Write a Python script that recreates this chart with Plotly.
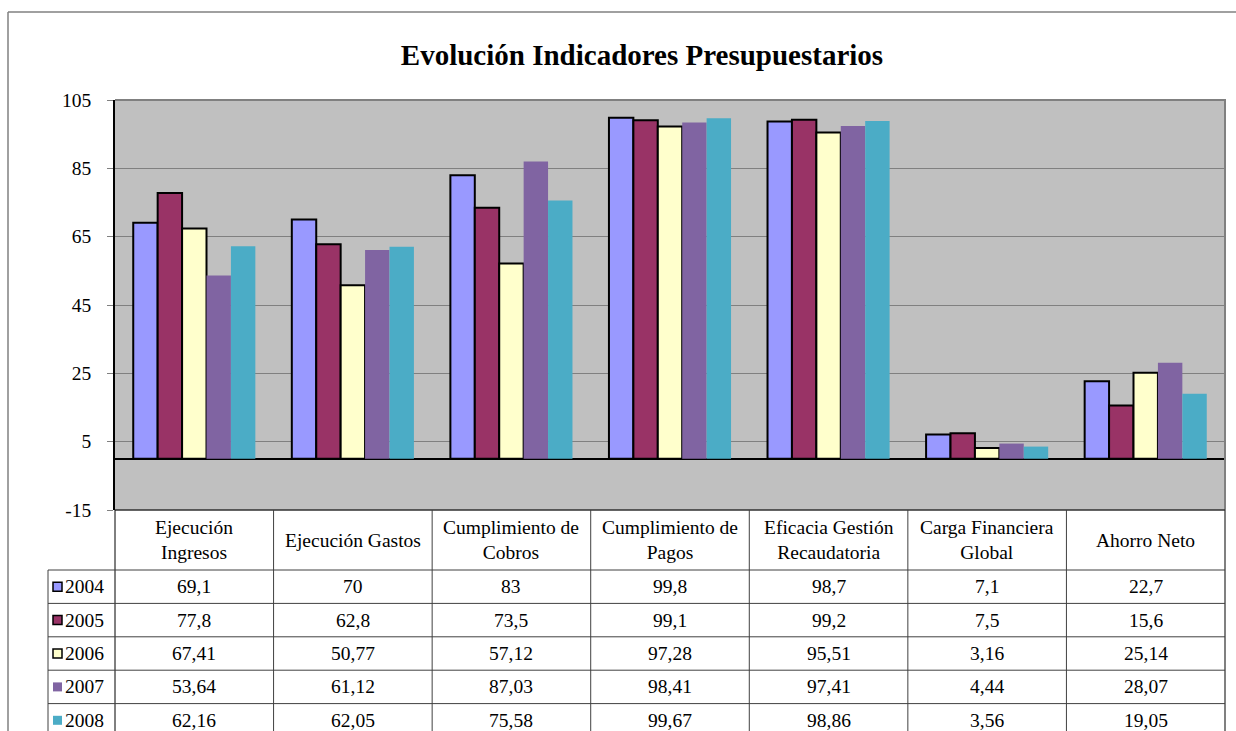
import plotly.graph_objects as go

# Indicator categories (table header text uses line breaks)
categories = ["Ejecución Ingresos", "Ejecución Gastos", "Cumplimiento de Cobros",
              "Cumplimiento de Pagos", "Eficacia Gestión Recaudatoria",
              "Carga Financiera Global", "Ahorro Neto"]
header_labels = ["Ejecución<br>Ingresos", "Ejecución Gastos", "Cumplimiento de<br>Cobros",
                 "Cumplimiento de<br>Pagos", "Eficacia Gestión<br>Recaudatoria",
                 "Carga Financiera<br>Global", "Ahorro Neto"]

years = ["2004", "2005", "2006", "2007", "2008"]
v2004 = [69.1, 70, 83, 99.8, 98.7, 7.1, 22.7]
v2005 = [77.8, 62.8, 73.5, 99.1, 99.2, 7.5, 15.6]
v2006 = [67.41, 50.77, 57.12, 97.28, 95.51, 3.16, 25.14]
v2007 = [53.64, 61.12, 87.03, 98.41, 97.41, 4.44, 28.07]
v2008 = [62.16, 62.05, 75.58, 99.67, 98.86, 3.56, 19.05]
series = [v2004, v2005, v2006, v2007, v2008]

colors = ["#9999FF", "#993366", "#FFFFCC", "#8064A2", "#4BACC6"]
outlined = [True, True, True, False, False]

y_ticks = [-15, 5, 25, 45, 65, 85, 105]

FONT = "Liberation Serif"
TXT = 19.5

# Layout geometry in pixels
FIG_W, FIG_H = 1236, 731
L, R, T, B = 115, 1225, 100, 510
W, H = R - L, B - T


def px(x):
    return (x - L) / W


def py(y):
    return (B - y) / H


def fmt(v):
    return str(v).replace(".", ",")


fig = go.Figure()
for name, vals, col, ol in zip(years, series, colors, outlined):
    fig.add_trace(go.Bar(
        x=categories, y=vals, name=name,
        marker=dict(color=col,
                    line=dict(color="black", width=2 if ol else 0)),
        hoverinfo="x+y+name",
    ))

shapes = []
annotations = []

# Outer chart frame
shapes.append(dict(type="line", xref="paper", yref="paper",
                   x0=px(8), x1=px(1240), y0=py(12), y1=py(12),
                   line=dict(color="#808080", width=1.5)))
shapes.append(dict(type="line", xref="paper", yref="paper",
                   x0=px(8), x1=px(8), y0=py(12), y1=py(740),
                   line=dict(color="#808080", width=1.5)))

# Plot area border (top and right gray)
shapes.append(dict(type="line", xref="paper", yref="paper",
                   x0=0, x1=px(R + 1), y0=1, y1=1,
                   line=dict(color="#808080", width=2)))
shapes.append(dict(type="line", xref="paper", yref="paper",
                   x0=px(R), x1=px(R), y0=py(740), y1=1,
                   line=dict(color="#808080", width=2)))
shapes.append(dict(type="line", xref="paper", yref="paper",
                   x0=0, x1=px(R), y0=0, y1=0,
                   line=dict(color="#303030", width=1.5)))

# Data table grid
n_cat = len(categories)
col_w = W / n_cat
col_x = [L + i * col_w for i in range(n_cat + 1)]
header_bottom = 570
row_h = 33.4
row_y = [header_bottom + i * row_h for i in range(len(years) + 1)]
legend_left = 48
grid_color = "#404040"

for i, x in enumerate(col_x[:-1]):
    shapes.append(dict(type="line", xref="paper", yref="paper",
                       x0=px(x), x1=px(x), y0=py(B), y1=py(740),
                       line=dict(color="black" if i == 0 else grid_color, width=1)))
shapes.append(dict(type="line", xref="paper", yref="paper",
                   x0=px(legend_left), x1=px(legend_left),
                   y0=py(header_bottom), y1=py(740),
                   line=dict(color=grid_color, width=1)))
for y in row_y:
    shapes.append(dict(type="line", xref="paper", yref="paper",
                       x0=px(legend_left), x1=px(R), y0=py(y), y1=py(y),
                       line=dict(color=grid_color, width=1)))

# Header labels
for i, lab in enumerate(header_labels):
    annotations.append(dict(
        xref="paper", yref="paper",
        x=px(col_x[i] + col_w / 2), y=py((B + header_bottom) / 2),
        text=lab, showarrow=False, xanchor="center", yanchor="middle",
        font=dict(family=FONT, size=TXT, color="black"), align="center"))

# Rows: legend key, year, and values
for r, (name, vals, col, ol) in enumerate(zip(years, series, colors, outlined)):
    yc = row_y[r] + row_h / 2
    shapes.append(dict(type="rect", xref="paper", yref="paper",
                       x0=px(53), x1=px(62), y0=py(yc - 4.5), y1=py(yc + 4.5),
                       fillcolor=col,
                       line=dict(color="black" if ol else col, width=1.5 if ol else 0)))
    annotations.append(dict(
        xref="paper", yref="paper", x=px(63), y=py(yc),
        text=name, showarrow=False, xanchor="left", yanchor="middle",
        font=dict(family=FONT, size=TXT, color="black")))
    for i, v in enumerate(vals):
        annotations.append(dict(
            xref="paper", yref="paper",
            x=px(col_x[i] + col_w / 2), y=py(yc),
            text=fmt(v), showarrow=False, xanchor="center", yanchor="middle",
            font=dict(family=FONT, size=TXT, color="black")))

fig.update_layout(
    width=FIG_W, height=FIG_H,
    margin=dict(l=L, r=FIG_W - R, t=T, b=FIG_H - B, autoexpand=False),
    paper_bgcolor="white",
    plot_bgcolor="#C0C0C0",
    barmode="group",
    bargap=0.23,
    bargroupgap=0,
    showlegend=False,
    title=dict(text="<b>Evolución Indicadores Presupuestarios</b>",
               x=642 / FIG_W, xanchor="center",
               y=1 - 55 / FIG_H, yanchor="middle",
               font=dict(family=FONT, size=29, color="black")),
    xaxis=dict(showticklabels=False, showgrid=False, zeroline=False,
               showline=False, ticks=""),
    yaxis=dict(range=[-15, 105], tickvals=y_ticks,
               ticktext=[str(t) for t in y_ticks],
               showgrid=True, gridcolor="#808080", gridwidth=1,
               zeroline=True, zerolinecolor="black", zerolinewidth=1.5,
               showline=True, linecolor="black", linewidth=1.5,
               ticks="outside", ticklen=6, tickcolor="#808080",
               ticklabelstandoff=12,
               tickfont=dict(family=FONT, size=TXT, color="black")),
    shapes=shapes,
    annotations=annotations,
)

fig.write_html("out.html")
